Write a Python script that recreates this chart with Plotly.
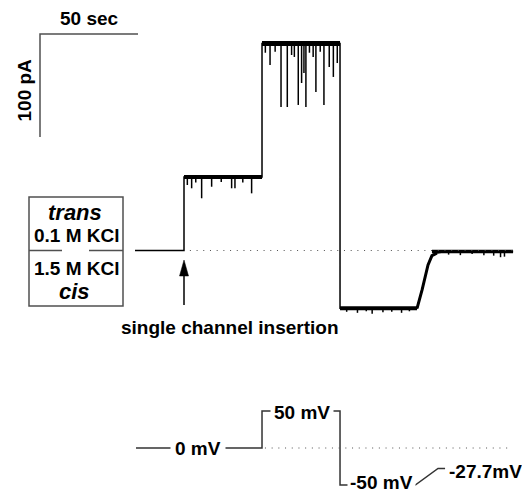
import plotly.graph_objects as go

W, H = 522, 493

# ---------------- data ----------------
# single-channel current recording (time in s, current in pA)
current_t = [0, 25.0, 25.0, 64.8, 64.8, 104.6, 104.6, 143.9, 146.5, 149.5, 151.5, 154.0, 157.0, 192.9]
current_pA = [0, 0, 71.4, 71.4, 201.0, 201.0, -56.1, -56.1, -38.0, -14.0, -5.0, -2.5, -1.5, -1.0]

# open-level plateaus (start, end, level) used for the noisy band
plateau_t0 = [25.0, 64.8, 104.6, 151.5]
plateau_t1 = [64.8, 104.6, 143.9, 192.9]
plateau_pA = [71.4, 201.0, -56.1, -1.0]

# brief closures (downward spikes)
level1_spike_t = [26.7, 28.9, 31.0, 34.0, 39.1, 44.0, 49.3, 51.0, 55.0, 59.5]
level1_spike_pA = [63.6, 60.4, 66.0, 50.7, 61.9, 66.5, 60.4, 60.4, 66.0, 55.5]
level2_spike_t = [66.5, 68.9, 71.5, 74.5, 77.7, 79.9, 81.3, 83.3, 85.0, 86.2, 87.2,
                  89.0, 90.9, 92.3, 94.5, 96.4, 99.1, 101.2, 103.2]
level2_spike_pA = [192.0, 180.1, 193.0, 139.3, 139.3, 189.8, 187.9, 141.3, 162.6, 172.3,
                   139.3, 192.0, 187.9, 153.9, 193.0, 141.3, 178.2, 168.5, 182.0]
level3_spike_t = [108.0, 113.5, 118.0, 121.0, 126.5, 131.0, 136.0, 140.0]
level3_spike_pA = [-59.5, -60.5, -59.0, -61.5, -60.0, -59.5, -60.5, -59.0]
level4_spike_t = [160.0, 166.0, 172.0, 178.0, 183.0, 186.5, 188.5]
level4_spike_pA = [-4.0, -4.5, -3.5, -4.5, -5.0, -6.5, -6.0]

insertion_t = 25.0

# voltage protocol (time in s, voltage in mV)
voltage_t = [0, 64.8, 64.8, 104.6, 104.6, 143.0, 154.6, 158.2]
voltage_mV = [0, 0, 50, 50, -50, -50, -27.7, -27.7]

zero_current_t = [28.0, 192.9]
zero_voltage_t = [66.3, 192.3]

scale_sec = 50
scale_pA = 100

# ---------------- geometry (pixel mapping) ----------------
T0_PX, PX_PER_S = 135.0, 1.96
I0_PX, PX_PER_PA = 250.5, 1.03
V0_PX, PX_PER_MV = 448.0, 0.74

x_range = [(0 - T0_PX) / PX_PER_S, (W - T0_PX) / PX_PER_S]
y_range = [(I0_PX - H) / PX_PER_PA, I0_PX / PX_PER_PA]
y2_range = [(V0_PX - H) / PX_PER_MV, V0_PX / PX_PER_MV]


def pxp(p):
    return p / W


def pyp(p):
    return 1 - p / H


def spikes(ts, depths, level):
    xs, ys = [], []
    for t, d in zip(ts, depths):
        xs += [t, t, None]
        ys += [level, d, None]
    return xs, ys


TRACE = "#000000"
GREY = "#505050"

fig = go.Figure()

# main current trace
fig.add_trace(go.Scatter(x=current_t, y=current_pA, mode="lines",
                         line=dict(color=TRACE, width=1.5), hoverinfo="skip"))
# noisy bands on plateaus
band_w = [4, 5, 4, 3.5]
for t0, t1, lv, bw in zip(plateau_t0, plateau_t1, plateau_pA, band_w):
    fig.add_trace(go.Scatter(x=[t0, t1], y=[lv, lv], mode="lines",
                             line=dict(color=TRACE, width=bw), hoverinfo="skip"))
# ramp thickness
fig.add_trace(go.Scatter(x=current_t[7:12], y=current_pA[7:12], mode="lines",
                         line=dict(color=TRACE, width=3), hoverinfo="skip"))
# spikes
for ts, ds, lv in [(level1_spike_t, level1_spike_pA, plateau_pA[0]),
                   (level2_spike_t, level2_spike_pA, plateau_pA[1]),
                   (level3_spike_t, level3_spike_pA, plateau_pA[2]),
                   (level4_spike_t, level4_spike_pA, plateau_pA[3])]:
    sx, sy = spikes(ts, ds, lv)
    fig.add_trace(go.Scatter(x=sx, y=sy, mode="lines",
                             line=dict(color=TRACE, width=1.5), hoverinfo="skip"))

# zero-current dotted line
fig.add_trace(go.Scatter(x=zero_current_t, y=[0, 0], mode="lines",
                         line=dict(color=GREY, width=1, dash="1px,5.7px"), hoverinfo="skip"))

# scale bar
sb_x0 = (40 - T0_PX) / PX_PER_S
sb_y0 = (I0_PX - 34) / PX_PER_PA
fig.add_trace(go.Scatter(x=[sb_x0 + scale_sec, sb_x0, sb_x0],
                         y=[sb_y0, sb_y0, sb_y0 - scale_pA], mode="lines",
                         line=dict(color=GREY, width=1.5), hoverinfo="skip"))

# voltage protocol
fig.add_trace(go.Scatter(x=[(136 - T0_PX) / PX_PER_S] + voltage_t[1:], y=voltage_mV, mode="lines",
                         yaxis="y2", line=dict(color="#333333", width=1.5), hoverinfo="skip"))
fig.add_trace(go.Scatter(x=zero_voltage_t, y=[0, 0], mode="lines", yaxis="y2",
                         line=dict(color=GREY, width=1, dash="1px,5.7px"), hoverinfo="skip"))

FONT = "Liberation Sans, Arial, sans-serif"
ann = []


def label(text, x, y, size=19, italic=False, bg=None, xanchor="center", pad=1):
    t = f"<b><i>{text}</i></b>" if italic else f"<b>{text}</b>"
    d = dict(text=t, x=pxp(x), y=pyp(y), xref="paper", yref="paper", showarrow=False,
             xanchor=xanchor, yanchor="middle", font=dict(family=FONT, size=size, color="#000"),
             borderpad=pad)
    if bg:
        d["bgcolor"] = bg
    ann.append(d)


label("50 sec", 89, 19)
ann.append(dict(text="<b>100 pA</b>", x=pxp(23.5), y=pyp(90), xref="paper", yref="paper",
                showarrow=False, textangle=-90, xanchor="center", yanchor="middle",
                font=dict(family=FONT, size=19, color="#000")))
label("trans", 75, 212, size=22, italic=True)
label("0.1 M KCl", 76.5, 236)
label("1.5 M KCl", 76.5, 268)
label("cis", 74, 291, size=22, italic=True)
label("single channel insertion", 230, 327)
label("0 mV", 198, 448, bg="white", pad=4)
label("50 mV", 301.5, 412, bg="white", pad=3)
label("-50 mV", 381, 482, bg="white", pad=2)
label("-27.7mV", 447, 471, xanchor="left")

shapes = []
# box with membrane
shapes.append(dict(type="rect", xref="paper", yref="paper", x0=pxp(29), x1=pxp(123),
                   y0=pyp(306), y1=pyp(197), line=dict(color=GREY, width=1.5)))
for a, b in [(29, 62), (89, 123)]:
    shapes.append(dict(type="line", xref="paper", yref="y", x0=pxp(a), x1=pxp(b), y0=0, y1=0,
                       line=dict(color=GREY, width=1.5)))
# insertion arrow
ax = T0_PX + PX_PER_S * insertion_t
shapes.append(dict(type="line", xref="paper", yref="paper", x0=pxp(ax), x1=pxp(ax),
                   y0=pyp(305), y1=pyp(272), line=dict(color=TRACE, width=1.5)))
shapes.append(dict(type="path", xref="paper", yref="paper",
                   path=f"M {pxp(ax)},{pyp(260)} L {pxp(ax - 4.5)},{pyp(276)} L {pxp(ax + 4.5)},{pyp(276)} Z",
                   fillcolor=TRACE, line=dict(color=TRACE, width=0.5)))

fig.update_layout(
    width=W, height=H, margin=dict(l=0, r=0, t=0, b=0),
    paper_bgcolor="white", plot_bgcolor="white", showlegend=False,
    xaxis=dict(range=x_range, visible=False, fixedrange=True),
    yaxis=dict(range=y_range, visible=False, fixedrange=True),
    yaxis2=dict(range=y2_range, visible=False, overlaying="y", fixedrange=True),
    annotations=ann, shapes=shapes,
)

fig.write_html("out.html")
